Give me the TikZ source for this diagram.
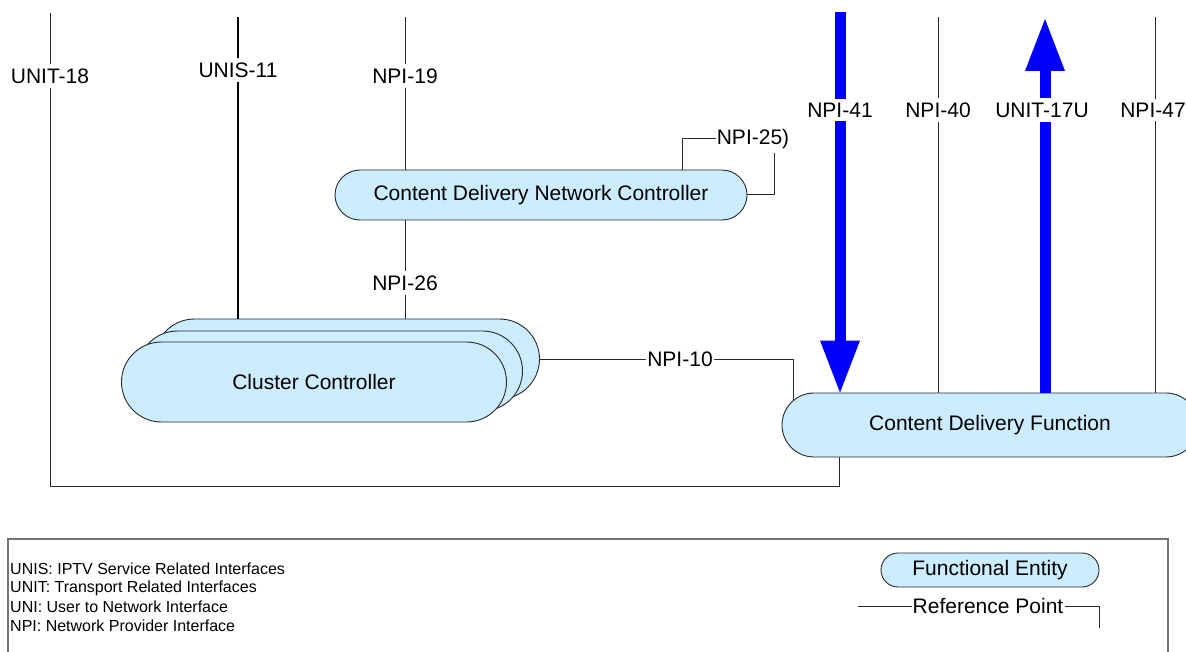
\documentclass[tikz,border=0pt]{standalone}
\usepackage{fontspec}
\setmainfont{Liberation Sans}
\usetikzlibrary{arrows.meta}
\definecolor{feblue}{RGB}{204,236,255}
\definecolor{lnc}{RGB}{40,40,40}
\tikzset{
  pill/.style={draw=lnc, fill=feblue, line width=0.9pt, inner sep=0pt},
  ln/.style={draw=lnc, line width=1pt},
  lbl/.style={inner xsep=1pt, inner ysep=4pt},
  bigline/.style={draw=blue, line width=11pt},
  bigarrow/.style={draw=blue, line width=11pt, -{Triangle[width=40pt,length=52pt,line width=0pt]}},
  legtxt/.style={anchor=west, inner sep=0pt, font=\fontsize{16}{19}\selectfont}
}
\begin{document}
\begin{tikzpicture}[x=1pt,y=-1pt,font=\fontsize{21}{25}\selectfont]
\clip (0,0) rectangle (1186,652);
\useasboundingbox (0,0) rectangle (1186,652);

% entities
\node[pill, minimum width=412pt, minimum height=50pt, rounded corners=25pt] (cdnc) at (541,195) {Content Delivery Network Controller};
\node[pill, minimum width=385pt, minimum height=80pt, rounded corners=40pt] (cc3) at (347,359) {};
\node[pill, minimum width=385pt, minimum height=80pt, rounded corners=40pt] (cc2) at (330,371) {};
\node[pill, minimum width=385pt, minimum height=80pt, rounded corners=40pt] (cc1) at (314,382) {Cluster Controller};
\node[pill, minimum width=416pt, minimum height=64pt, rounded corners=32pt] (cdf) at (990,425) {Content Delivery Function};

% labels
\node[lbl] (l18) at (50,76) {UNIT-18};
\node[lbl] (l11) at (238,70) {UNIS-11};
\node[lbl] (l19) at (405,76) {NPI-19};
\node[lbl] (l26) at (405,283) {NPI-26};
\node[lbl] (l41) at (840,110) {NPI-41};
\node[lbl] (l40) at (938,110) {NPI-40};
\node[lbl] (l17) at (1042,110) {UNIT-17U};
\node[lbl] (l47) at (1153,110) {NPI-47};
\node[inner sep=1pt] (l25) at (753,139) {NPI-25)};
\node[inner sep=1pt] (l10) at (680,359) {NPI-10};

% top coordinates
\coordinate (t18) at (50,13);
\coordinate (t11) at (238,17);
\coordinate (t19) at (405,17);
\coordinate (t41) at (840,12);
\coordinate (t40) at (938,17);
\coordinate (t17) at (1045,19);
\coordinate (t47) at (1155,17);

% UNIT-18
\coordinate (b18) at (839,486);
\draw[ln] (t18) -- (l18.north -| t18);
\draw[ln] (l18.south -| t18) |- (b18) -- (b18 |- cdf.south);

% UNIS-11
\draw[draw=black, line width=1.8pt] (t11) -- (l11.north -| t11);
\draw[draw=black, line width=1.8pt] (l11.south -| t11) -- (t11 |- cc3.north);

% NPI-19
\draw[ln] (t19) -- (l19.north -| t19);
\draw[ln] (l19.south -| t19) -- (t19 |- cdnc.north);

% NPI-26
\draw[ln] (t19 |- cdnc.south) -- (l26.north -| t19);
\draw[ln] (l26.south -| t19) -- (t19 |- cc3.north);

% NPI-25)
\coordinate (c25a) at (682,139);
\coordinate (c25b) at (774,153);
\draw[ln] (c25a |- cdnc.north) -- (c25a) -- (l25.west);
\draw[ln] (c25b) |- (cdnc.east);

% NPI-10
\coordinate (c10) at (793,359);
\coordinate (c10b) at (793,401);
\draw[ln] (cc3.east) -- (l10.west);
\draw[ln] (l10.east) -- (c10) -- (c10b);

% NPI-40, NPI-47
\draw[ln] (t40) -- (l40.north -| t40);
\draw[ln] (l40.south -| t40) -- (t40 |- cdf.north);
\draw[ln] (t47) -- (l47.north -| t47);
\draw[ln] (l47.south -| t47) -- (t47 |- cdf.north);

% blue arrows
\draw[bigline] (t41) -- (l41.north -| t41);
\draw[bigarrow] (l41.south -| t41) -- (t41 |- cdf.north);
\draw[bigline] (t17 |- cdf.north) -- (l17.south -| t17);
\draw[bigarrow] (l17.north -| t17) -- (t17);

% legend
\draw[draw=black!55, line width=1.3pt] (8,665) -- (8,539) -- (1168,539) -- (1168,665);
\node[legtxt] (g1) at (10,569) {UNIS: IPTV Service Related Interfaces};
\node[legtxt] (g2) at (10,588) {UNIT: Transport Related Interfaces};
\node[legtxt] (g3) at (10,607) {UNI: User to Network Interface};
\node[legtxt] (g4) at (10,626) {NPI: Network Provider Interface};

\node[pill, minimum width=218pt, minimum height=34pt, rounded corners=17pt] (fe) at (990,570) {Functional Entity};
\node[inner sep=1pt] (rp) at (988,606) {Reference Point};
\coordinate (rpl) at (858,606);
\coordinate (rpr) at (1099,606);
\coordinate (rpd) at (1099,628);
\draw[ln] (rpl) -- (rp.west);
\draw[ln] (rp.east) -- (rpr) -- (rpd);
\end{tikzpicture}
\end{document}
